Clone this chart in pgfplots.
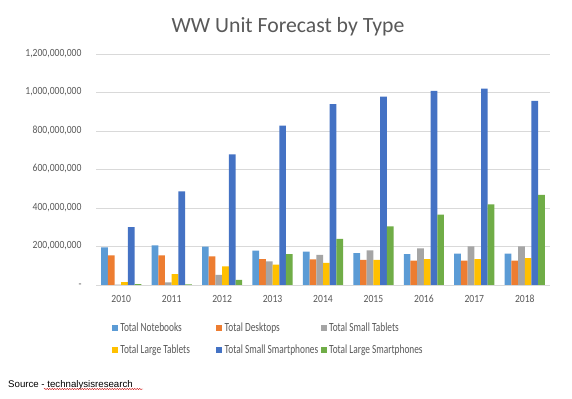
\documentclass[border=0pt]{standalone}
\usepackage{pgfplots}
\pgfplotsset{compat=1.18}
\usepackage{pgfplotstable}
\usepackage{fontspec}
\setmainfont{Carlito}
\newfontfamily\cond[FakeStretch=0.88]{Carlito}
\newfontfamily\condl[FakeStretch=0.75]{Carlito}
\newfontfamily\arial{Liberation Sans}
\usetikzlibrary{decorations.pathmorphing}
\definecolor{cNote}{HTML}{5B9BD5}
\definecolor{cDesk}{HTML}{ED7D31}
\definecolor{cSTab}{HTML}{A5A5A5}
\definecolor{cLTab}{HTML}{FFC000}
\definecolor{cSSP}{HTML}{4472C4}
\definecolor{cLSP}{HTML}{70AD47}
\definecolor{gridc}{HTML}{D9D9D9}
\definecolor{txtc}{HTML}{595959}
\pgfplotstableread{
x  note  desk  stab  ltab  ssp   lsp
0  196   154   2     15    300   4
1  206   154   14    56    487   3
2  199   149   52    97    679   26
3  178   135   123   106   828   161
4  173   133   156   115   939   239
5  165   130   180   130   978   305
6  161   126   190   135   1009  365
7  163   126   201   135   1020  419
8  163   126   201   139   957   468
}\data
\begin{document}
\begin{tikzpicture}
\useasboundingbox[fill=white] (0,0) rectangle (572bp,399bp);
\node[font=\fontsize{21.8}{25}\selectfont, text=txtc] at (288bp,372bp) {WW Unit Forecast by Type};
\begin{axis}[
  at={(96bp,114bp)}, anchor=south west,
  scale only axis, width=454bp, height=231bp,
  ybar=0pt, bar width=6.7bp,
  xmin=-0.5, xmax=8.5, ymin=0, ymax=1200,
  axis line style={draw=none},
  ymajorgrids, grid style={gridc, line width=0.6bp},
  ytick={0,200,400,600,800,1000,1200},
  yticklabels={-\hspace{4bp},{200,000,000},{400,000,000},{600,000,000},{800,000,000},{1,000,000,000},{1,200,000,000}},
  xtick=data,
  xticklabels={2010,2011,2012,2013,2014,2015,2016,2017,2018},
  typeset ticklabels with strut,
  tick style={draw=none},
  ticklabel style={font=\cond\fontsize{11}{12}\selectfont, text=txtc},
  yticklabel style={xshift=-11bp},
  xticklabel style={yshift=-1bp},
  legend columns=3,
  legend style={draw=none, fill=none, anchor=north west, at={(0.035,-0.152)},
    inner sep=0pt, row sep=8bp,
    font=\condl\fontsize{12.5}{13}\selectfont, text=txtc,
    nodes={inner sep=2.2bp}},
  legend cell align=left,
  legend image code/.code={\fill[#1] (0bp,-3bp) rectangle (6bp,3bp);},
  every axis plot/.append style={draw=none},
]
\addplot[fill=cNote] table[x=x,y=note] {\data};
\addplot[fill=cDesk] table[x=x,y=desk] {\data};
\addplot[fill=cSTab] table[x=x,y=stab] {\data};
\addplot[fill=cLTab] table[x=x,y=ltab] {\data};
\addplot[fill=cSSP] table[x=x,y=ssp] {\data};
\addplot[fill=cLSP] table[x=x,y=lsp] {\data};
\legend{\makebox[94bp][l]{Total Notebooks},\makebox[94bp][l]{Total Desktops},\makebox[94bp][l]{Total Small Tablets},
  \makebox[94bp][l]{Total Large Tablets},\makebox[94bp][l]{Total Small Smartphones},\makebox[94bp][l]{Total Large Smartphones}}
\end{axis}
\node[anchor=base west, font=\arial\fontsize{9.7}{11}\selectfont, inner sep=0pt] (src) at (8bp,12bp) {Source - technalysisresearch};
\draw[red!80!black, line width=0.4bp, decorate, decoration={snake, amplitude=0.6bp, segment length=2.5bp}]
  (44bp,10bp) -- (143bp,10bp);
\end{tikzpicture}
\end{document}
